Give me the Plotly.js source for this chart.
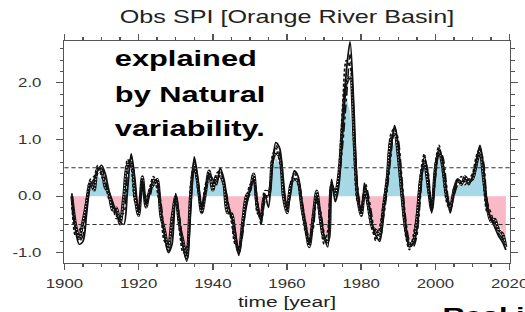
<!DOCTYPE html>
<html>
<head>
<meta charset="utf-8">
<script src="https://cdn.plot.ly/plotly-3.0.1.min.js"></script>
<style>
  html, body { margin:0; padding:0; background:#fff; overflow:hidden; width:525px; height:312px; }
  #chart { width:392px; height:312px; transform: scaleX(1.4); transform-origin: 0 0; }
</style>
</head>
<body>
<div id="chart"></div>
<script>
// SPI series, yearly 1902-2019 (rows by decade)
const startYear = 1902;
const solidSeries = [
  0.05,-0.6,-0.85,-0.8,-0.3,0.2,0.3,0.45,
  0.55,0.4,0.1,-0.1,-0.3,-0.45,-0.5,0.1,0.75,0.3,
  -0.3,0.3,-0.15,0.05,0.3,0.25,-0.2,-0.7,-1.0,-0.85,
  0.05,-0.4,-0.9,-1.15,-0.3,0.7,0.3,-0.25,0.1,0.4,
  0.3,0.2,0.5,0.3,-0.1,-0.35,-0.6,-1.05,-0.6,-0.2,
  0.1,0.3,-0.1,-0.45,0.05,-0.2,0.5,0.95,0.85,0.3,
  -0.25,0.05,0.45,0.35,-0.1,-0.5,-0.85,-0.5,0.0,-0.3,
  -0.7,-0.9,0.3,-0.1,0.2,1.2,2.2,2.73,1.6,0.1,
  -0.3,0.2,-0.1,-0.5,-0.7,-0.8,-0.3,0.2,0.8,1.25,
  0.9,0.2,-0.5,-0.9,-0.85,-0.6,0.1,0.7,0.4,-0.3,
  0.4,0.85,0.6,0.1,-0.3,0.05,0.3,0.25,0.3,0.2,
  0.35,0.6,0.9,0.5,-0.2,-0.4,-0.55,-0.7,-0.8,-0.95
];
const dashedSeries = [
  -0.1,-0.7,-0.6,-0.5,0.0,0.3,0.35,0.55,
  0.35,0.2,-0.05,-0.2,-0.35,-0.4,-0.1,0.65,0.5,-0.1,
  -0.2,0.25,-0.1,0.15,0.35,0.1,-0.3,-0.8,-0.85,-0.3,
  -0.1,-0.6,-1.0,-0.9,0.2,0.6,0.1,-0.2,0.2,0.35,
  0.2,0.4,0.45,0.15,-0.2,-0.4,-0.85,-0.9,-0.4,-0.1,
  0.2,0.25,-0.3,-0.35,0.1,0.1,0.7,0.85,0.6,0.1,
  -0.15,0.25,0.4,0.2,-0.25,-0.65,-0.8,-0.3,-0.05,-0.5,
  -0.85,-0.6,0.25,0.0,0.5,1.6,2.4,2.3,0.9,-0.1,
  -0.2,0.15,-0.3,-0.6,-0.75,-0.55,-0.1,0.4,1.1,1.2,
  0.6,-0.1,-0.7,-0.95,-0.7,-0.3,0.4,0.75,0.1,-0.2,
  0.6,0.9,0.4,-0.1,-0.25,0.15,0.25,0.35,0.2,0.3,
  0.4,0.7,0.85,0.2,-0.3,-0.35,-0.5,-0.55,-0.7,-0.85
];
const dottedSeries = [
  0.0,-0.5,-0.75,-0.45,-0.1,0.25,0.1,0.5,
  0.45,0.15,0.05,-0.25,-0.2,-0.5,0.0,0.55,0.6,0.0,
  -0.35,0.35,-0.2,0.1,0.2,0.3,-0.35,-0.6,-0.95,-0.4,
  0.0,-0.5,-0.8,-1.1,0.0,0.55,0.2,-0.3,0.05,0.45,
  0.1,0.35,0.35,0.2,-0.3,-0.3,-0.7,-1.0,-0.5,0.0,
  0.1,0.4,-0.2,-0.4,0.0,0.0,0.6,0.75,0.7,0.0,
  -0.3,0.2,0.3,0.25,-0.2,-0.55,-0.9,-0.4,0.1,-0.4,
  -0.75,-0.8,0.2,0.05,0.4,1.3,2.0,2.1,1.1,0.0,
  -0.35,0.1,-0.2,-0.55,-0.6,-0.7,-0.2,0.3,1.0,1.1,
  0.7,0.0,-0.6,-0.85,-0.8,-0.4,0.3,0.6,0.2,-0.25,
  0.5,0.8,0.5,0.0,-0.2,0.1,0.3,0.2,0.35,0.25,
  0.3,0.55,0.8,0.3,-0.2,-0.45,-0.4,-0.6,-0.65,-0.9
];
const dashDotSeries = [
  -0.2,-0.55,-0.8,-0.7,-0.2,0.15,0.25,0.4,
  0.5,0.3,0.0,-0.15,-0.4,-0.35,-0.3,0.4,0.7,0.2,
  -0.25,0.2,0.0,0.0,0.25,0.2,-0.1,-0.65,-0.9,-0.6,
  -0.05,-0.35,-0.85,-1.05,-0.2,0.65,0.25,-0.15,0.1,0.3,
  0.35,0.25,0.45,0.25,-0.05,-0.45,-0.75,-0.95,-0.7,-0.15,
  0.05,0.35,-0.05,-0.5,-0.1,0.05,0.45,0.9,0.75,0.2,
  -0.2,0.1,0.45,0.3,-0.05,-0.45,-0.75,-0.6,-0.1,-0.25,
  -0.65,-0.85,0.1,0.1,0.3,0.9,1.7,2.5,1.3,0.2,
  -0.25,0.25,0.0,-0.4,-0.8,-0.75,-0.4,0.1,0.7,1.2,
  1.0,0.3,-0.4,-0.8,-0.9,-0.7,0.0,0.65,0.45,-0.2,
  0.3,0.8,0.7,0.2,-0.25,0.0,0.2,0.3,0.25,0.3,
  0.3,0.5,0.85,0.6,-0.1,-0.3,-0.5,-0.65,-0.75,-0.9
];
const fillSeries = [
  -0.1,-0.6,-0.7,-0.5,-0.1,0.15,0.2,0.35,
  0.3,0.1,-0.05,-0.2,-0.3,-0.4,-0.1,0.3,0.45,0.0,
  -0.3,0.1,-0.1,0.05,0.15,0.1,-0.3,-0.6,-0.85,-0.5,
  -0.1,-0.45,-0.8,-0.95,-0.1,0.4,0.1,-0.2,0.05,0.3,
  0.2,0.2,0.3,0.1,-0.15,-0.35,-0.7,-0.85,-0.5,-0.1,
  0.05,0.2,-0.15,-0.35,-0.05,0.0,0.4,0.7,0.55,0.1,
  -0.2,0.1,0.3,0.2,-0.15,-0.5,-0.75,-0.4,-0.05,-0.35,
  -0.65,-0.7,0.1,0.0,0.3,1.0,1.75,1.5,0.8,0.0,
  -0.25,0.05,-0.2,-0.5,-0.6,-0.6,-0.2,0.2,0.8,0.95,
  0.6,0.0,-0.55,-0.8,-0.7,-0.4,0.15,0.55,0.2,-0.2,
  0.4,0.7,0.45,0.0,-0.2,0.05,0.2,0.2,0.2,0.2,
  0.25,0.45,0.7,0.3,-0.2,-0.35,-0.4,-0.55,-0.6,-0.8
];
const yTickVals = [-1, 0, 1, 2];
const xTickVals = [1900, 1920, 1940, 1960, 1980, 2000, 2020];

const years = solidSeries.map((_, i) => startYear + i);
const fam = '"Liberation Sans", Arial, Helvetica, sans-serif';
const posPart = fillSeries.map(v => Math.max(v, 0));
const negPart = fillSeries.map(v => Math.min(v, 0));

const traces = [
  {x: years, y: posPart, type:'scatter', mode:'lines', fill:'tozeroy', fillcolor:'#a6d8e6', line:{width:0, color:'#a6d8e6'}, hoverinfo:'skip'},
  {x: years, y: negPart, type:'scatter', mode:'lines', fill:'tozeroy', fillcolor:'#f9b9c6', line:{width:0, color:'#f9b9c6'}, hoverinfo:'skip'},
  {x: years, y: dashDotSeries, type:'scatter', mode:'lines', line:{color:'#111', width:1.1, dash:'dashdot', shape:'spline', smoothing:0.8}},
  {x: years, y: dashedSeries, type:'scatter', mode:'lines', line:{color:'#111', width:1.2, dash:'3px,2px', shape:'spline', smoothing:0.8}},
  {x: years, y: dottedSeries, type:'scatter', mode:'lines', line:{color:'#111', width:2.2, shape:'spline', smoothing:0.8}},
  {x: years, y: dottedSeries, type:'scatter', mode:'lines', line:{color:'#fff', width:0.8, dash:'1px,2px', shape:'spline', smoothing:0.8}},
  {x: years, y: solidSeries, type:'scatter', mode:'lines', line:{color:'#111', width:1.3, shape:'spline', smoothing:0.8}}
];

const axisCommon = {
  showgrid:false, zeroline:false, showline:true, linecolor:'#555', linewidth:1,
  mirror:'allticks', ticks:'outside', tickcolor:'#555', tickwidth:1,
  tickfont:{family:fam, size:12, color:'#333'}
};

const boldFont = {family:fam, size:22, color:'#000', weight:'bold'};

const layout = {
  width:392, height:312,
  margin:{l:46, r:28, t:41, b:49, pad:0},
  paper_bgcolor:'#fff', plot_bgcolor:'#fff',
  showlegend:false,
  font:{family:fam},
  title:{text:'Obs SPI [Orange River Basin]', font:{family:fam, size:18, color:'#222'}, x:0.5, xref:'paper', xanchor:'center', y:0.947, yref:'container', yanchor:'middle'},
  xaxis:Object.assign({}, axisCommon, {
    range:[1900, 2020], tickmode:'array', tickvals:xTickVals, ticktext:xTickVals.map(String),
    ticklen:6, ticklabelstandoff:4,
    minor:{dtick:5, tick0:1900, ticks:'outside', ticklen:3, tickcolor:'#555', showgrid:false},
    title:{text:'time [year]', font:{family:fam, size:15, color:'#222'}, standoff:6}
  }),
  yaxis:Object.assign({}, axisCommon, {
    range:[-1.18, 2.74], tickmode:'array', tickvals:yTickVals, ticktext:yTickVals.map(v => v.toFixed(1)),
    ticklen:5, ticklabelstandoff:8,
    minor:{dtick:0.2, tick0:0, ticks:'outside', ticklen:2.5, tickcolor:'#555', showgrid:false}
  }),
  shapes:[
    {type:'line', xref:'paper', x0:0, x1:1, yref:'y', y0:0.5, y1:0.5, line:{color:'#333', width:1, dash:'3px,2px'}},
    {type:'line', xref:'paper', x0:0, x1:1, yref:'y', y0:-0.5, y1:-0.5, line:{color:'#333', width:1, dash:'3px,2px'}}
  ],
  annotations:[
    {text:'explained', xref:'paper', yref:'paper', x:0.107, y:0.923, xanchor:'left', yanchor:'middle', showarrow:false, font:boldFont},
    {text:'by Natural', xref:'paper', yref:'paper', x:0.107, y:0.761, xanchor:'left', yanchor:'middle', showarrow:false, font:boldFont},
    {text:'variability.', xref:'paper', yref:'paper', x:0.107, y:0.604, xanchor:'left', yanchor:'middle', showarrow:false, font:boldFont},
    {text:'Real i', xref:'paper', yref:'paper', x:0.844, y:-0.235, xanchor:'left', yanchor:'middle', showarrow:false, font:boldFont}
  ]
};

Plotly.newPlot('chart', traces, layout, {displayModeBar:false, staticPlot:true});
</script>
</body>
</html>
